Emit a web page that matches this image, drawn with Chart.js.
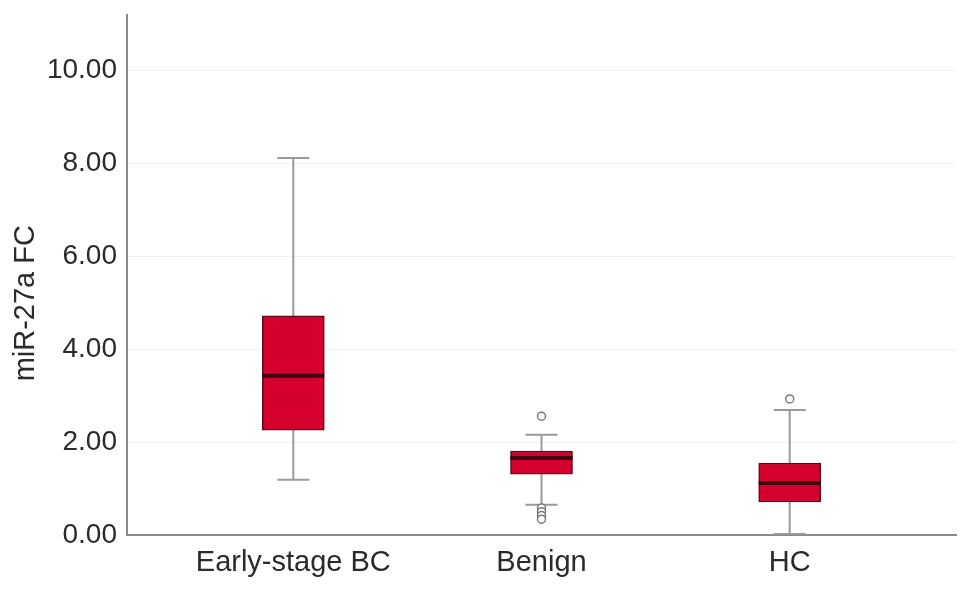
<!DOCTYPE html>
<html lang="en">
<head>
    <meta charset="UTF-8">
    <title>miR-27a FC box plot</title>
    <style>
        body {
            margin: 0;
            padding: 0;
            background: #fff;
        }

        .container {
            width: 969px;
            height: 592px;
            position: relative;
        }
    </style>
    <script src="https://cdn.jsdelivr.net/npm/chart.js"></script>
</head>
<body>
    <div class="container">
        <canvas id="boxChart"></canvas>
    </div>
    <script>
        // Groups and box plot statistics
        const groups = ['Early-stage BC', 'Benign', 'HC'];
        const positions = [1, 2, 3];
        const q1 = [2.26, 1.31, 0.71];
        const q3 = [4.72, 1.81, 1.55];
        const medians = [3.43, 1.66, 1.12];
        const whiskerLow = [1.19, 0.65, 0.02];
        const whiskerHigh = [8.12, 2.16, 2.69];
        const outliers = [
            [],
            [2.56, 0.58, 0.50, 0.42, 0.34],
            [2.93]
        ];
        const yTicks = [0, 2, 4, 6, 8, 10];

        const outlierPoints = [];
        outliers.forEach((list, i) => {
            list.forEach(v => outlierPoints.push({ x: positions[i], y: v }));
        });

        const fontFamily = '"Liberation Sans", Arial, sans-serif';

        // Whiskers, caps and medians drawn through the chart scales
        const boxParts = {
            id: 'boxParts',
            beforeDatasetsDraw(chart) {
                const { ctx, scales: { x, y } } = chart;
                ctx.save();
                ctx.strokeStyle = '#9a9a9a';
                ctx.lineWidth = 2;
                positions.forEach((p, i) => {
                    const px = x.getPixelForValue(p);
                    const half = 16;
                    ctx.beginPath();
                    ctx.moveTo(px, y.getPixelForValue(whiskerHigh[i]));
                    ctx.lineTo(px, y.getPixelForValue(whiskerLow[i]));
                    ctx.moveTo(px - half, y.getPixelForValue(whiskerHigh[i]));
                    ctx.lineTo(px + half, y.getPixelForValue(whiskerHigh[i]));
                    ctx.moveTo(px - half, y.getPixelForValue(whiskerLow[i]));
                    ctx.lineTo(px + half, y.getPixelForValue(whiskerLow[i]));
                    ctx.stroke();
                });
                ctx.restore();
            },
            afterDatasetsDraw(chart) {
                const { ctx, scales: { x, y } } = chart;
                ctx.save();
                ctx.strokeStyle = '#3e0510';
                ctx.lineWidth = 4;
                positions.forEach((p, i) => {
                    const px = x.getPixelForValue(p);
                    const py = y.getPixelForValue(medians[i]);
                    ctx.beginPath();
                    ctx.moveTo(px - 31, py);
                    ctx.lineTo(px + 31, py);
                    ctx.stroke();
                });
                ctx.restore();
            }
        };

        const ctx = document.getElementById('boxChart').getContext('2d');
        new Chart(ctx, {
            type: 'bar',
            data: {
                datasets: [{
                    type: 'scatter',
                    data: outlierPoints,
                    pointStyle: 'circle',
                    pointRadius: 4,
                    pointBackgroundColor: '#ffffff',
                    pointBorderColor: '#7a7a7a',
                    pointBorderWidth: 1.5
                }, {
                    type: 'bar',
                    data: positions.map((p, i) => ({ x: p, y: [q1[i], q3[i]] })),
                    backgroundColor: '#d6002f',
                    borderColor: '#5a0a18',
                    borderWidth: 1.5,
                    borderSkipped: false,
                    barThickness: 62
                }]
            },
            options: {
                responsive: true,
                maintainAspectRatio: false,
                animation: false,
                layout: {
                    padding: { top: 15, right: 13, left: 0, bottom: 0 }
                },
                plugins: {
                    legend: { display: false },
                    tooltip: { enabled: false }
                },
                scales: {
                    x: {
                        type: 'linear',
                        offset: false,
                        bounds: 'ticks',
                        min: 0.33,
                        max: 3.67,
                        afterBuildTicks: scale => {
                            scale.ticks = positions.map(v => ({ value: v }));
                        },
                        afterFit: scale => { scale.height = 57; },
                        ticks: {
                            callback: value => groups[positions.indexOf(value)] || '',
                            color: '#2a2a2a',
                            font: { family: fontFamily, size: 29 },
                            padding: 11,
                            maxRotation: 0
                        },
                        grid: { display: false, drawTicks: false },
                        border: { color: '#8a8a8a', width: 2 }
                    },
                    y: {
                        min: 0,
                        max: 11.2,
                        afterBuildTicks: scale => {
                            scale.ticks = yTicks.map(v => ({ value: v }));
                        },
                        afterFit: scale => {
                            scale.width = 127;
                            scale.paddingTop = 0;
                            scale.paddingBottom = 0;
                        },
                        ticks: {
                            callback: value => value.toFixed(2),
                            color: '#2a2a2a',
                            font: { family: fontFamily, size: 28 },
                            padding: 10
                        },
                        grid: { color: '#f2f2f2', lineWidth: 1, drawTicks: false },
                        border: { color: '#8a8a8a', width: 2 },
                        title: {
                            display: true,
                            text: 'miR-27a FC       ',
                            color: '#2a2a2a',
                            font: { family: fontFamily, size: 29 },
                            padding: { top: 9, bottom: 0 }
                        }
                    }
                }
            },
            plugins: [boxParts]
        });
    </script>
</body>
</html>
